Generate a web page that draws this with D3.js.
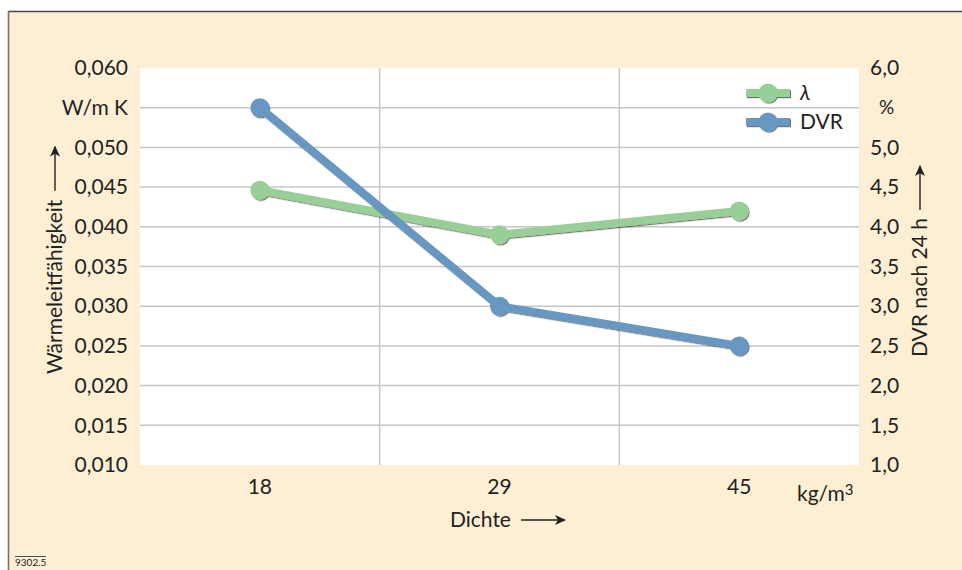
<!DOCTYPE html>
<html>
<head>
<meta charset="utf-8">
<script src="https://cdn.jsdelivr.net/npm/d3@7"></script>
<style>
  html, body { margin: 0; padding: 0; background: #fff; }
  svg { display: block; }
  text { font-family: Lato, "Open Sans", sans-serif; fill: #222; }
</style>
</head>
<body>
<svg id="chart" width="962" height="570"></svg>
<script>
// Density categories (kg/m³)
const categories = ["18", "29", "45"];
// Thermal conductivity λ in W/m K
const lambdaValues = [0.0446, 0.039, 0.042];
// DVR after 24 h in %
const dvrValues = [5.5, 3.0, 2.5];
// Axis ticks
const leftTicks = [0.010, 0.015, 0.020, 0.025, 0.030, 0.035, 0.040, 0.045, 0.050, 0.055, 0.060];
const rightTicks = [1.0, 1.5, 2.0, 2.5, 3.0, 3.5, 4.0, 4.5, 5.0, 5.5, 6.0];

const svg = d3.select("#chart");
const W = 962, H = 570;
const plot = { left: 140, right: 859, top: 68, bottom: 465 };
const FS = 21;
const FONT = "Lato, 'Open Sans', sans-serif";

const cream = "#FDEFD3";
const green = "#97CF97";
const blue = "#6897C1";
const grid = "#c6c6c6";

// frame
svg.append("rect").attr("x", 8).attr("y", 11).attr("width", W - 8).attr("height", H - 11).attr("fill", cream);
svg.append("line").attr("x1", 8).attr("x2", W).attr("y1", 11.5).attr("y2", 11.5).attr("stroke", "#4a4a4a").attr("stroke-width", 1.6);
svg.append("line").attr("x1", 8.5).attr("x2", 8.5).attr("y1", 11).attr("y2", H).attr("stroke", "#7a7266").attr("stroke-width", 1.6);

// plot background
svg.append("rect").attr("x", plot.left).attr("y", plot.top)
  .attr("width", plot.right - plot.left).attr("height", plot.bottom - plot.top).attr("fill", "#fff");

const x = d3.scaleBand().domain(categories).range([plot.left, plot.right]);
const yL = d3.scaleLinear().domain([0.010, 0.060]).range([plot.bottom, plot.top]);
const yR = d3.scaleLinear().domain([1.0, 6.0]).range([plot.bottom, plot.top]);

const fmtL = v => d3.format(".3f")(v).replace(".", ",");
const fmtR = v => d3.format(".1f")(v).replace(".", ",");

// horizontal gridlines (inner ticks only)
svg.append("g").selectAll("line")
  .data(leftTicks.filter(t => t > 0.0101 && t < 0.0599))
  .join("line")
  .attr("x1", plot.left).attr("x2", plot.right)
  .attr("y1", d => yL(d)).attr("y2", d => yL(d))
  .attr("stroke", grid).attr("stroke-width", 1.5);

// vertical gridlines between categories
svg.append("g").selectAll("line")
  .data(categories.slice(1))
  .join("line")
  .attr("x1", d => x(d)).attr("x2", d => x(d))
  .attr("y1", plot.top).attr("y2", plot.bottom)
  .attr("stroke", grid).attr("stroke-width", 1.5);

function styleAxisText(g) {
  g.select(".domain").remove();
  g.selectAll("text").attr("font-size", FS).attr("fill", "#222").style("font-family", FONT);
}

// left axis labels
const leftAxis = d3.axisLeft(yL).tickValues(leftTicks)
  .tickFormat(d => Math.abs(d - 0.055) < 1e-9 ? "W/m K" : fmtL(d))
  .tickSize(0).tickPadding(12);
const gL = svg.append("g").attr("transform", `translate(${plot.left},0)`).call(leftAxis);
styleAxisText(gL);

// right axis labels
const rightAxis = d3.axisRight(yR).tickValues(rightTicks)
  .tickFormat(d => Math.abs(d - 5.5) < 1e-9 ? "%" : fmtR(d))
  .tickSize(0).tickPadding(11);
const gR = svg.append("g").attr("transform", `translate(${plot.right},0)`).call(rightAxis);
styleAxisText(gR);
gR.selectAll(".tick").filter(d => Math.abs(d - 5.5) < 1e-9).select("text")
  .attr("x", 20).attr("font-size", 19);

// x axis labels
const xAxis = d3.axisBottom(x).tickSize(0).tickPadding(14);
const gX = svg.append("g").attr("transform", `translate(0,${plot.bottom})`).call(xAxis);
styleAxisText(gX);

svg.append("text").attr("x", 797).attr("y", 501).attr("font-size", FS)
  .html('kg/m<tspan font-size="15" dy="-6">3</tspan>');

// arrow marker
const defs = svg.append("defs");
defs.append("marker").attr("id", "arrow").attr("viewBox", "0 0 10 10")
  .attr("refX", 9).attr("refY", 5).attr("markerWidth", 11).attr("markerHeight", 11)
  .attr("markerUnits", "userSpaceOnUse").attr("orient", "auto")
  .append("path").attr("d", "M0,0.5 L10,5 L0,9.5 L2.5,5 Z").attr("fill", "#222");

// shadow filter for lines and markers
const f = defs.append("filter").attr("id", "shadow").attr("x", "-20%").attr("y", "-20%").attr("width", "140%").attr("height", "140%");
f.append("feDropShadow").attr("dx", 1).attr("dy", 1.2).attr("stdDeviation", 0.6)
  .attr("flood-color", "#000").attr("flood-opacity", 0.55);

// axis title with a trailing arrow
function titleWithArrow(g, label, gap, len) {
  const t = g.append("text").attr("x", 0).attr("y", 0).attr("font-size", FS).text(label);
  const w = t.node().getComputedTextLength();
  g.append("line").attr("x1", w + gap).attr("x2", w + gap + len).attr("y1", -7).attr("y2", -7)
    .attr("stroke", "#222").attr("stroke-width", 1.4).attr("marker-end", "url(#arrow)");
}

// x title
titleWithArrow(svg.append("g").attr("transform", "translate(450,527)"), "Dichte", 10, 44);
// left y title
titleWithArrow(svg.append("g").attr("transform", "translate(62,374) rotate(-90)"), "Wärmeleitfähigkeit", 9, 44);
// right y title
titleWithArrow(svg.append("g").attr("transform", "translate(927,357) rotate(-90)"), "DVR nach 24 h", 8, 44);

// series
const cx = d => x(d) + x.bandwidth() / 2;
const series = [
  { name: "λ", values: lambdaValues, y: yL, color: green },
  { name: "DVR", values: dvrValues, y: yR, color: blue }
];

series.forEach(s => {
  const pts = categories.map((c, i) => [cx(c), s.y(s.values[i])]);
  const g = svg.append("g").attr("filter", "url(#shadow)");
  g.append("path").attr("d", d3.line()(pts)).attr("fill", "none")
    .attr("stroke", s.color).attr("stroke-width", 8).attr("stroke-linejoin", "round");
  g.selectAll("circle").data(pts).join("circle")
    .attr("cx", d => d[0]).attr("cy", d => d[1]).attr("r", 9.5).attr("fill", s.color);
});

// legend
const legend = svg.append("g");
series.forEach((s, i) => {
  const ly = 93 + i * 29;
  const g = legend.append("g").attr("filter", "url(#shadow)");
  g.append("rect").attr("x", 746).attr("y", ly - 4).attr("width", 44).attr("height", 8).attr("fill", s.color);
  g.append("circle").attr("cx", 768).attr("cy", ly).attr("r", 9.5).attr("fill", s.color);
  legend.append("text").attr("x", 800).attr("y", ly + 7).attr("font-size", FS)
    .attr("font-style", i === 0 ? "italic" : "normal").text(s.name);
});

// code label
svg.append("text").attr("x", 15).attr("y", 566).attr("font-size", 10).text("9302.5");
svg.append("line").attr("x1", 15).attr("x2", 46).attr("y1", 556.5).attr("y2", 556.5)
  .attr("stroke", "#222").attr("stroke-width", 0.8);
</script>
</body>
</html>
